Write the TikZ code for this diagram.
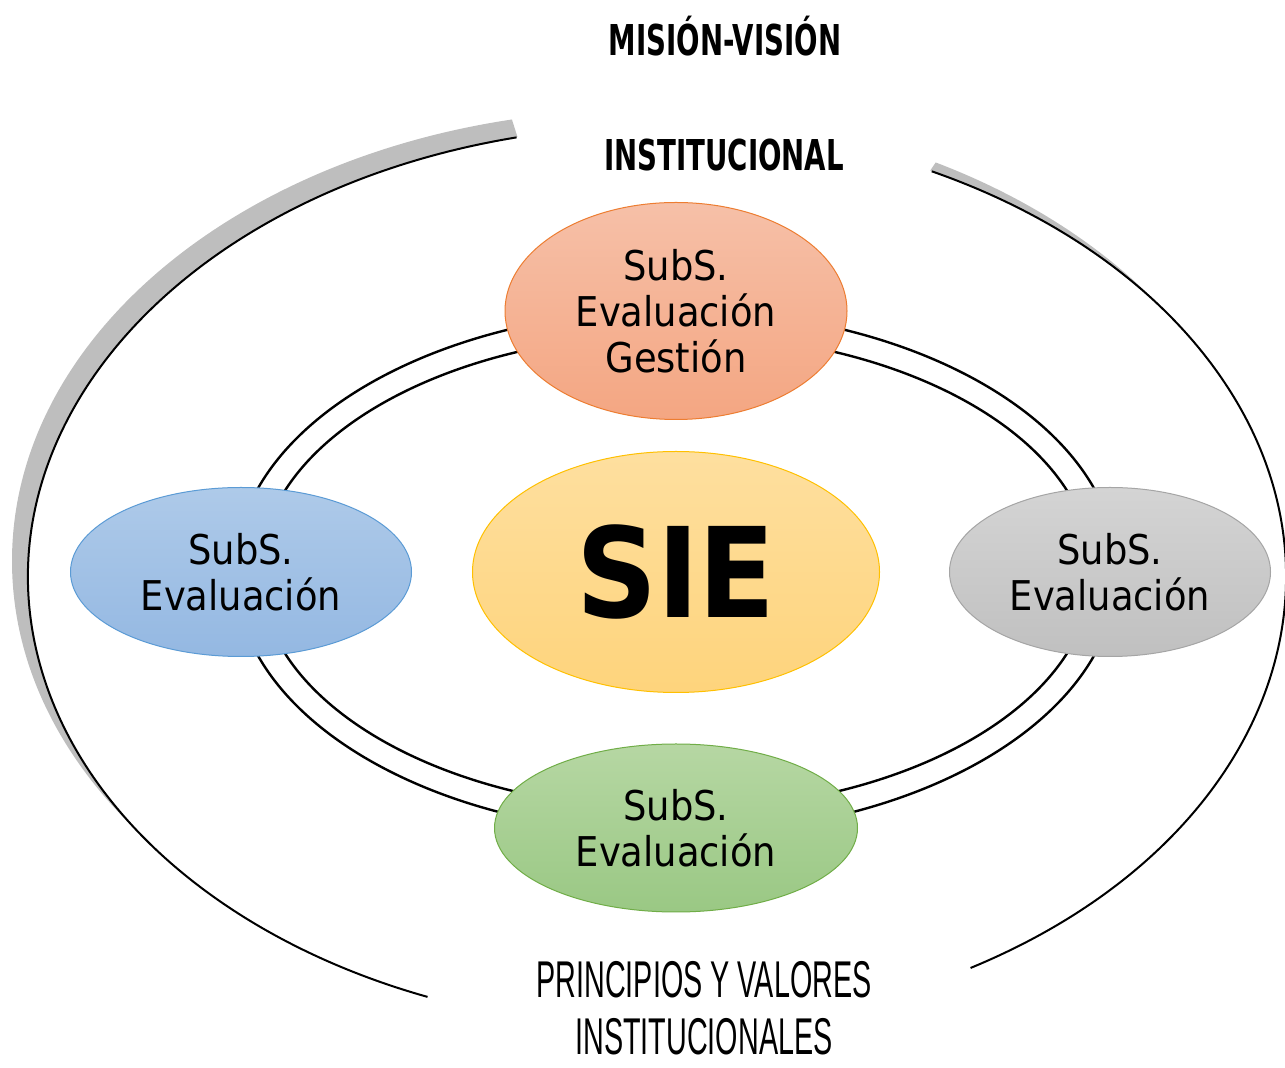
\documentclass[tikz,border=0pt]{standalone}
\usepackage{fontspec}
\usepackage{xcolor}
\usetikzlibrary{shapes.geometric}

\newfontfamily\subsfont{DejaVu Sans Condensed}
\newfontfamily\titlefont[FakeStretch=0.65]{DejaVu Sans}
\newfontfamily\valuesfont[FakeStretch=0.556]{Liberation Sans}

\definecolor{shadowgray}{HTML}{BEBEBE}
\definecolor{orangetop}{HTML}{F6C0A8}
\definecolor{orangebot}{HTML}{F4A682}
\definecolor{orangeline}{HTML}{ED7D31}
\definecolor{yellowtop}{HTML}{FEDF9F}
\definecolor{yellowbot}{HTML}{FED47C}
\definecolor{yellowline}{HTML}{FFC000}
\definecolor{bluetop}{HTML}{AECAE9}
\definecolor{bluebot}{HTML}{94B8E2}
\definecolor{blueline}{HTML}{5B9BD5}
\definecolor{graytop}{HTML}{D4D4D4}
\definecolor{graybot}{HTML}{C0C0C0}
\definecolor{grayline}{HTML}{A5A5A5}
\definecolor{greentop}{HTML}{B6D7A3}
\definecolor{greenbot}{HTML}{9AC884}
\definecolor{greenline}{HTML}{70AD47}

\begin{document}
\begin{tikzpicture}[x=1pt,y=1pt,
  subs/.style={ellipse, draw, line width=1pt, inner sep=0pt, align=center,
    font=\subsfont\fontsize{41}{46}\selectfont},
  ring/.style={line width=2.4pt},
  bigarc/.style={line width=2pt},
  title/.style={inner sep=0pt, font=\titlefont\bfseries\fontsize{42.5}{50}\selectfont},
  values/.style={inner sep=0pt, align=center, font=\valuesfont\fontsize{51.7}{57}\selectfont}]
  \useasboundingbox (0,0) rectangle (1285,1068);

  % Shadow of the outer arcs
  \begin{scope}
    \clip (657,491) -- +(102.9:900 and 650) arc[start angle=102.9, end angle=248.6, x radius=900, y radius=650] -- cycle
          (657,491) -- +(-60.1:900 and 650) arc[start angle=-60.1, end angle=64.1, x radius=900, y radius=650] -- cycle;
    \fill[shadowgray] (641,507) ellipse[x radius=629, y radius=451];
  \end{scope}
  \fill[white] (657,491) ellipse[x radius=629, y radius=451];

  % Outer arcs
  \draw[bigarc] (657,491) ++(102.9:629 and 451) arc[start angle=102.9, end angle=248.6, x radius=629, y radius=451];
  \draw[bigarc] (657,491) ++(-60.1:629 and 451) arc[start angle=-60.1, end angle=64.1, x radius=629, y radius=451];

  % Double ring
  \coordinate (mid) at (676,496);
  \draw[ring] (mid) ellipse[x radius=441, y radius=262];
  \draw[ring] (mid) ellipse[x radius=416, y radius=238];

  % Subsystems
  \node[subs, minimum width=342, minimum height=217, top color=orangetop, bottom color=orangebot, draw=orangeline]
    (gestion) at (676,757) {SubS.\\Evaluación\\Gestión};
  \node[subs, minimum width=341, minimum height=169, top color=bluetop, bottom color=bluebot, draw=blueline]
    (izq) at (241,496) {SubS.\\Evaluación};
  \node[subs, minimum width=321, minimum height=169, top color=graytop, bottom color=graybot, draw=grayline]
    (der) at (1110,496) {SubS.\\Evaluación};
  \node[subs, minimum width=363, minimum height=168, top color=greentop, bottom color=greenbot, draw=greenline]
    (abajo) at (676,240) {SubS.\\Evaluación};

  % Center
  \node[ellipse, draw=yellowline, line width=1pt, minimum width=407, minimum height=241, inner sep=0pt,
    top color=yellowtop, bottom color=yellowbot, font=\subsfont\bfseries\fontsize{125}{125}\selectfont]
    (sie) at (mid) {SIE};

  % Texts
  \node[title] (mision) at (725,1032) {MISIÓN-VISIÓN};
  \node[title] (instit) at (724,913) {INSTITUCIONAL};
  \node[values] (valores) at (704,60) {PRINCIPIOS Y VALORES\\INSTITUCIONALES};
\end{tikzpicture}
\end{document}
